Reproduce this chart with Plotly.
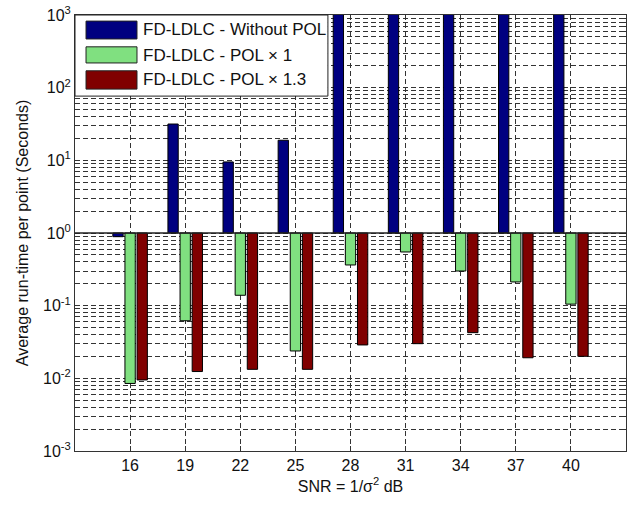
import plotly.graph_objects as go

snr = [16, 19, 22, 25, 28, 31, 34, 37, 40]
without_pol = [0.89, 31.6, 9.5, 18.9, 2000, 2000, 2000, 2000, 2000]
pol_x1 = [0.0085, 0.062, 0.139, 0.0238, 0.363, 0.548, 0.30, 0.212, 0.105]
pol_x13 = [0.0095, 0.0124, 0.0133, 0.0133, 0.0288, 0.030, 0.0425, 0.0192, 0.0201]

names = ["FD-LDLC - Without POL", "FD-LDLC - POL \u00d7 1", "FD-LDLC - POL \u00d7 1.3"]
colors = ["#000080", "#80E080", "#800000"]
series = [without_pol, pol_x1, pol_x13]

y_tickvals = [1e-3, 1e-2, 1e-1, 1e0, 1e1, 1e2, 1e3]
y_ticktext = ["10<sup>-3</sup>", "10<sup>-2</sup>", "10<sup>-1</sup>", "10<sup>0</sup>",
              "10<sup>1</sup>", "10<sup>2</sup>", "10<sup>3</sup>"]
minor_vals = [k * 10.0 ** d for d in range(-3, 3) for k in range(2, 10)]

fig = go.Figure()
for name, col, vals in zip(names, colors, series):
    fig.add_trace(go.Bar(
        x=snr, y=[v - 1 for v in vals], base=[1] * len(vals), name=name,
        marker=dict(color=col, line=dict(color="black", width=1)),
        showlegend=False, hoverinfo="skip",
    ))

font = "Liberation Sans, Arial, sans-serif"
fig.update_layout(
    width=640, height=508,
    margin=dict(l=75, r=14, t=15, b=57),
    paper_bgcolor="white", plot_bgcolor="white",
    barmode="group", bargap=0.34, bargroupgap=0.15,
    font=dict(family=font, size=16, color="#111"),
    hovermode=False,
    xaxis=dict(
        type="linear", range=[13, 43], tickvals=snr, ticktext=[str(s) for s in snr],
        automargin=False, ticklabeloverflow="allow",
        showline=True, linecolor="#333", linewidth=1, mirror="ticks",
        ticks="inside", ticklen=5, tickcolor="#333",
        showgrid=True, gridcolor="#333", gridwidth=1, griddash="5px,3px",
        zeroline=False,
        title=dict(text="SNR = 1/\u03c3<sup>2</sup> dB", font=dict(size=16), standoff=7),
        tickfont=dict(size=16),
    ),
    yaxis=dict(
        type="log", range=[-3, 3], tickvals=y_tickvals, ticktext=y_ticktext,
        automargin=False, ticklabeloverflow="allow",
        showline=True, linecolor="#333", linewidth=1, mirror="ticks",
        ticks="inside", ticklen=5, tickcolor="#333",
        showgrid=True, gridcolor="#333", gridwidth=1, griddash="5px,3px",
        minor=dict(tickvals=minor_vals, showgrid=True, gridcolor="#333", gridwidth=1,
                   griddash="5px,3px", ticks="inside", ticklen=3, tickcolor="#333"),
        zeroline=False,
        title=dict(text="Average run-time per point (Seconds)", font=dict(size=16), standoff=10),
        tickfont=dict(size=16),
    ),
)

# baseline at 10^0
fig.add_shape(type="line", xref="paper", yref="paper", x0=0, x1=1, y0=0.5, y1=0.5,
              line=dict(color="#222", width=1.5), layer="above")

# legend box
fig.add_shape(type="rect", xref="paper", yref="paper", x0=0, x1=0.459, y0=0.814, y1=1,
              fillcolor="white", line=dict(color="#222", width=1), layer="above")
rows = [(0.986, 0.945, 0.9656), (0.927, 0.890, 0.908), (0.872, 0.830, 0.851)]
for (ya, yb, yc), name, col in zip(rows, names, colors):
    fig.add_shape(type="rect", xref="paper", yref="paper", x0=0.020, x1=0.1125, y0=yb, y1=ya,
                  fillcolor=col, line=dict(color="#222", width=1), layer="above")
    fig.add_annotation(xref="paper", yref="paper", x=0.1198, y=yc, text=name,
                       showarrow=False, xanchor="left", yanchor="middle",
                       font=dict(family=font, size=17, color="#111"))

fig.write_html("out.html", config={"displayModeBar": False, "staticPlot": True},
               post_script="document.body.style.margin='0';")
